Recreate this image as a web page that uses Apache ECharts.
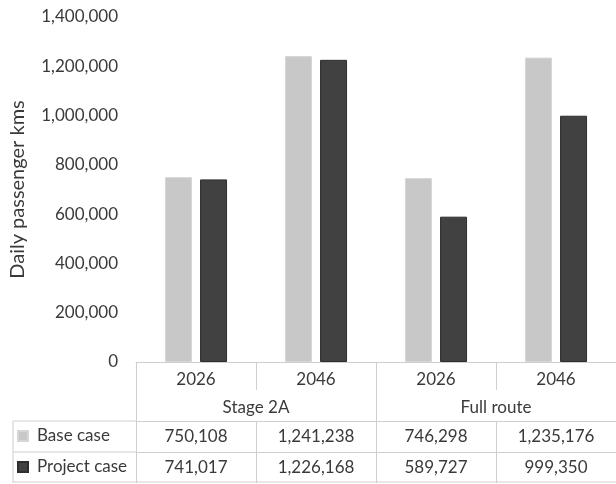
<!DOCTYPE html>
<html>
<head>
<meta charset="utf-8">
<script src="https://cdn.jsdelivr.net/npm/echarts@6/dist/echarts.min.js"></script>
<style>
  html, body { margin: 0; padding: 0; background: #fff; }
  #chart { width: 616px; height: 484px; }
</style>
</head>
<body>
<div id="chart"></div>
<script>
// Daily passenger kms by scenario, year and route
const years = ['2026', '2046', '2026', '2046'];
const routeGroups = ['Stage 2A', 'Full route'];
const seriesNames = ['Base case', 'Project case'];
const baseCase = [750108, 1241238, 746298, 1235176];
const projectCase = [741017, 1226168, 589727, 999350];
const yTicks = { min: 0, max: 1400000, step: 200000 };

const fmt = v => Number(v).toLocaleString('en-US');
const FONT = 'Lato';
const TEXT = '#3a3a3a';
const RULE = '#cfcfcf';

// plot frame (px)
const G = { left: 136, right: -4, top: 17, bottom: 122 };
const H = 484;
const axisY = H - G.bottom;      // y of the zero line / top of the table
const rowGroup = axisY + 59;     // line under the route-group row
const rowBase = axisY + 90;      // line under the base-case row
const rowEnd = axisY + 121;      // bottom of the table
const legendLeft = 13;

const chart = echarts.init(document.getElementById('chart'), null, { renderer: 'canvas' });

const labelStyle = { fontFamily: FONT, fontSize: 17, color: TEXT };

chart.setOption({
  animation: false,
  backgroundColor: '#ffffff',
  grid: { left: G.left, right: G.right, top: G.top, bottom: G.bottom, containLabel: false },
  legend: {
    data: seriesNames,
    orient: 'vertical',
    left: 17,
    top: axisY + 64,
    padding: 0,
    itemGap: 11,
    itemWidth: 10,
    itemHeight: 10,
    icon: 'rect',
    textStyle: { fontFamily: FONT, fontSize: 17, color: TEXT, lineHeight: 20, padding: [0, 0, 0, 4] }
  },
  xAxis: [
    { // years
      type: 'category', data: years, position: 'bottom',
      axisLine: { show: true, lineStyle: { color: RULE, width: 1 } },
      axisTick: { show: true, length: 28, lineStyle: { color: RULE } },
      axisLabel: Object.assign({ margin: 9, interval: 0 }, labelStyle)
    },
    { // route groups
      type: 'category', data: routeGroups, position: 'bottom',
      axisLine: { show: false },
      axisTick: { show: true, length: rowEnd - axisY, lineStyle: { color: RULE } },
      axisLabel: Object.assign({ margin: 37, interval: 0 }, labelStyle)
    },
    { // base case values row
      type: 'category', data: baseCase.map(fmt), position: 'bottom', offset: rowGroup - axisY,
      axisLine: { show: true, lineStyle: { color: RULE, width: 1 } },
      axisTick: { show: true, length: rowEnd - rowGroup, lineStyle: { color: RULE } },
      axisLabel: Object.assign({ margin: 7, interval: 0 }, labelStyle)
    },
    { // project case values row
      type: 'category', data: projectCase.map(fmt), position: 'bottom', offset: rowBase - axisY,
      axisLine: { show: true, lineStyle: { color: RULE, width: 1 } },
      axisTick: { show: false },
      axisLabel: Object.assign({ margin: 7, interval: 0 }, labelStyle)
    }
  ],
  yAxis: {
    type: 'value',
    min: yTicks.min, max: yTicks.max, interval: yTicks.step,
    name: 'Daily passenger kms',
    nameLocation: 'middle',
    nameRotate: 90,
    nameGap: 108,
    nameTextStyle: { fontFamily: FONT, fontSize: 20, color: TEXT },
    axisLine: { show: false },
    axisTick: { show: false },
    splitLine: { show: false },
    axisLabel: Object.assign({ margin: 18, formatter: fmt }, labelStyle)
  },
  series: [
    {
      name: seriesNames[0], type: 'bar', xAxisIndex: 0, data: baseCase,
      barWidth: 27, barGap: '30%',
      itemStyle: { color: '#c8c8c8', borderColor: '#d6d6d6', borderWidth: 1 }
    },
    {
      name: seriesNames[1], type: 'bar', xAxisIndex: 0, data: projectCase,
      barWidth: 27,
      itemStyle: { color: '#414141', borderColor: '#2e2e2e', borderWidth: 1 }
    }
  ],
  graphic: [
    // legend column borders of the data table
    { type: 'line', shape: { x1: legendLeft, y1: rowGroup, x2: G.left, y2: rowGroup }, style: { stroke: RULE, lineWidth: 1 } },
    { type: 'line', shape: { x1: legendLeft, y1: rowBase, x2: G.left, y2: rowBase }, style: { stroke: RULE, lineWidth: 1 } },
    { type: 'line', shape: { x1: legendLeft, y1: rowEnd - 1, x2: 616, y2: rowEnd - 1 }, style: { stroke: RULE, lineWidth: 1 } },
    { type: 'line', shape: { x1: legendLeft, y1: rowGroup, x2: legendLeft, y2: rowEnd }, style: { stroke: RULE, lineWidth: 1 } }
  ]
});
</script>
</body>
</html>
